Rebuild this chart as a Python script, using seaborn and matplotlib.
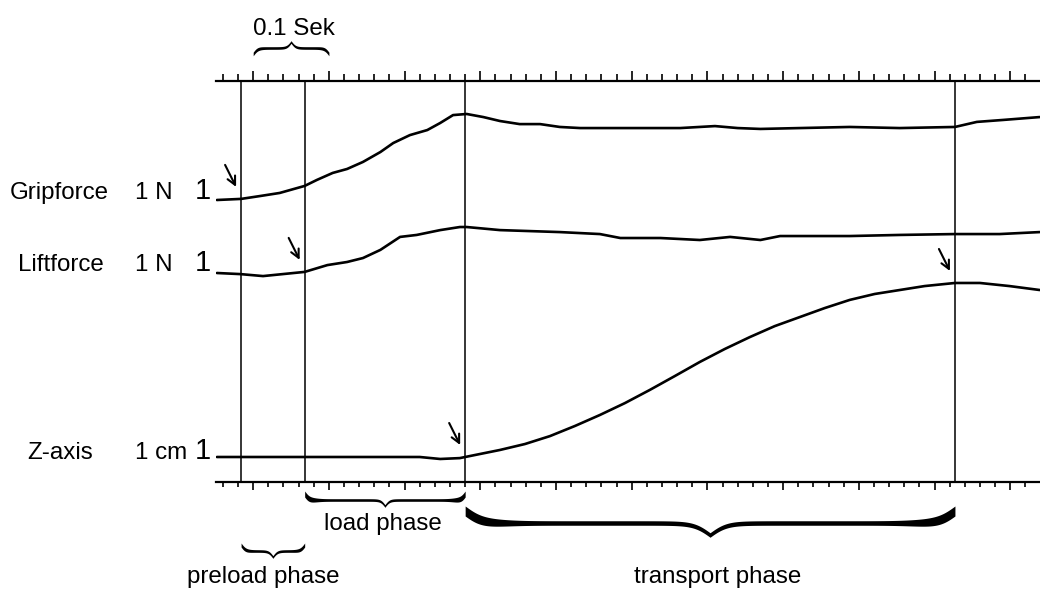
import numpy as np
import pandas as pd
import matplotlib
matplotlib.use("Agg")
import matplotlib.pyplot as plt
import seaborn as sns

# ---------------- data ----------------
grip_t = [0.052, 0.084, 0.109, 0.135, 0.168, 0.184, 0.205, 0.224, 0.245, 0.268, 0.285,
          0.307, 0.330, 0.347, 0.364, 0.382, 0.404, 0.426, 0.452, 0.479, 0.505, 0.532,
          0.585, 0.664, 0.710, 0.740, 0.770, 0.822, 0.888, 0.954, 1.027, 1.056, 1.091, 1.139]
grip_N = [0.00, 0.05, 0.18, 0.32, 0.64, 0.91, 1.23, 1.41, 1.73, 2.18, 2.59,
          2.95, 3.18, 3.50, 3.86, 3.91, 3.77, 3.59, 3.45, 3.45, 3.32, 3.27,
          3.27, 3.27, 3.36, 3.27, 3.23, 3.27, 3.32, 3.27, 3.32, 3.55, 3.64, 3.77]

lift_t = [0.052, 0.083, 0.113, 0.139, 0.168, 0.198, 0.224, 0.245, 0.268, 0.294, 0.316,
          0.347, 0.373, 0.382, 0.426, 0.505, 0.558, 0.585, 0.638, 0.690, 0.730, 0.770,
          0.796, 0.888, 0.954, 1.027, 1.086, 1.139]
lift_N = [0.00, -0.05, -0.14, -0.05, 0.05, 0.36, 0.50, 0.68, 1.05, 1.64, 1.73,
          1.95, 2.09, 2.09, 1.95, 1.86, 1.77, 1.59, 1.59, 1.50, 1.64, 1.50,
          1.68, 1.68, 1.73, 1.77, 1.77, 1.86]

z_t = [0.052, 0.320, 0.347, 0.373, 0.380, 0.426, 0.459, 0.492, 0.525, 0.558, 0.591,
       0.624, 0.657, 0.690, 0.723, 0.756, 0.789, 0.822, 0.855, 0.888, 0.921, 0.954,
       0.987, 1.027, 1.060, 1.099, 1.139]
z_cm = [0.00, 0.00, -0.09, -0.05, 0.00, 0.32, 0.59, 0.95, 1.41, 1.91, 2.45,
        3.05, 3.68, 4.32, 4.91, 5.45, 5.95, 6.36, 6.77, 7.14, 7.41, 7.59,
        7.77, 7.91, 7.91, 7.77, 7.59]

event_t = [0.084, 0.168, 0.380, 1.027]
trace_names = ["Gripforce", "Liftforce", "Z-axis"]
scale_labels = ["1 N", "1 N", "1 cm"]
phase_labels = ["preload phase", "load phase", "transport phase"]
time_scale_label = "0.1 Sek"

# ---------------- style ----------------
sns.set_theme(style="white")
plt.rcParams["font.family"] = ["Liberation Sans", "DejaVu Sans"]
plt.rcParams["text.color"] = "black"

W, H = 1040, 589
fig = plt.figure(figsize=(W / 100, H / 100), dpi=100)
fig.patch.set_facecolor("white")

AX_L, AX_R, AX_TOP, AX_BOT = 216, 1040, 81, 482
PX_PER_S, T0_PX = 757.0, 177.5
UNIT_PX = 22.0                      # height of one unit (1 N / 1 cm)
baselines_py = [200, 273, 457]

ax = fig.add_axes([AX_L / W, (H - AX_BOT) / H, (AX_R - AX_L) / W, (AX_BOT - AX_TOP) / H])
xlim = ((AX_L - T0_PX) / PX_PER_S, (AX_R - T0_PX) / PX_PER_S)
ax.set_xlim(*xlim)
ax.set_ylim(0, AX_BOT - AX_TOP)


def Y(py):
    return AX_BOT - np.asarray(py, dtype=float)


traces = [(grip_t, grip_N), (lift_t, lift_N), (z_t, z_cm)]
frames = []
for name, (tt, vv), base in zip(trace_names, traces, baselines_py):
    frames.append(pd.DataFrame({"t": tt, "y": Y(base) + np.asarray(vv) * UNIT_PX, "trace": name}))
df = pd.concat(frames, ignore_index=True)
for name in trace_names:
    sns.lineplot(data=df[df.trace == name], x="t", y="y", color="black", lw=1.9,
                 estimator=None, sort=False, ax=ax, legend=False)

ax.vlines(event_t, 0, AX_BOT - AX_TOP, color="black", lw=1.1)

# axes look
for s in ["left", "right"]:
    ax.spines[s].set_visible(False)
for s in ["top", "bottom"]:
    ax.spines[s].set_color("black")
    ax.spines[s].set_linewidth(1.6)
ax.set_xlabel("")
ax.set_ylabel("")
ax.set_yticks([])
major = np.arange(0.1, 1.11, 0.1)
minor = np.arange(0.06, 1.13, 0.02)
ax.set_xticks(major)
ax.set_xticks(minor, minor=True)
ax.tick_params(axis="x", which="both", direction="out", bottom=True, top=False,
               labelbottom=False, colors="black", width=1.2)
ax.tick_params(axis="x", which="major", length=6)
ax.tick_params(axis="x", which="minor", length=3.5)

ax2 = ax.twiny()
ax2.set_xlim(*xlim)
ax2.set_xticks(major)
ax2.set_xticks(minor, minor=True)
ax2.tick_params(axis="x", which="both", direction="out", top=True, bottom=False,
                labeltop=False, labelbottom=False, colors="black", width=1.2)
ax2.tick_params(axis="x", which="major", length=7.5)
ax2.tick_params(axis="x", which="minor", length=5)
for s in ["left", "right", "bottom", "top"]:
    ax2.spines[s].set_visible(False)
ax2.patch.set_visible(False)


# braces (x in seconds, y in pixel rows)
def brace(t0, t1, py_end, depth, pointing, th_mid, th_end, beta, curl):
    n = 401
    x = np.linspace(t0, t1, n)
    u = (x - t0) * PX_PER_S
    span = u[-1]
    half = u[: n // 2 + 1]
    yh = 1 / (1 + np.exp(-beta * (half - half[0]))) + 1 / (1 + np.exp(-beta * (half - half[-1])))
    yy = np.concatenate([yh, yh[-2::-1]]) - 0.5
    sgn = 1 if pointing == "down" else -1
    py = py_end + sgn * yy * depth
    w = np.exp(-(u / curl) ** 2) + np.exp(-((span - u) / curl) ** 2)
    th = th_mid + (th_end - th_mid) * np.clip(w, 0, 1)
    ax.fill_between(x, Y(py + th / 2), Y(py - th / 2), color="black", lw=0, clip_on=False)


brace(major[0], major[1], 54, 12, "up", 2.6, 3.6, 0.45, 8)
brace(event_t[0], event_t[1], 545, 12, "down", 2.6, 4.0, 0.45, 8)
brace(event_t[1], event_t[2], 494, 12, "down", 2.6, 6.0, 0.45, 12)
brace(event_t[2], event_t[3], 511, 24, "down", 4.5, 10.0, 0.12, 40)

# arrows
arrow_trace = [0, 1, 2, 2]
for t_ev, k in zip(event_t, arrow_trace):
    tt, vv = traces[k]
    yv = Y(baselines_py[k]) + np.interp(t_ev, tt, vv) * UNIT_PX
    tip = (t_ev - 5 / PX_PER_S, yv + 12)
    ax.annotate("", xy=tip, xytext=(-11, 22), textcoords="offset pixels",
                arrowprops=dict(arrowstyle="->", lw=1.5, color="black",
                                mutation_scale=15, shrinkA=0, shrinkB=0))

# text overlay in pixel coordinates
ov = fig.add_axes([0, 0, 1, 1])
ov.set_xlim(0, W)
ov.set_ylim(H, 0)
ov.axis("off")
ov.patch.set_visible(False)
FS = 17.4
name_x = [10, 18, 27]
base_text = [199, 271, 459]
for name, nx, lab, by in zip(trace_names, name_x, scale_labels, base_text):
    ov.text(nx, by, name, fontsize=FS, ha="left", va="baseline", color="black")
    ov.text(135, by, lab, fontsize=FS, ha="left", va="baseline", color="black")
    ov.text(195, by, "1", fontsize=21, ha="left", va="baseline", color="black")

ov.text(253, 35, time_scale_label, fontsize=FS, ha="left", va="baseline", color="black")
ov.text(263, 583, phase_labels[0], fontsize=FS, ha="center", va="baseline", color="black")
ov.text(383, 530, phase_labels[1], fontsize=FS, ha="center", va="baseline", color="black")
ov.text(718, 583, phase_labels[2], fontsize=FS, ha="center", va="baseline", color="black")

fig.savefig("out.png", dpi=100, facecolor="white")
